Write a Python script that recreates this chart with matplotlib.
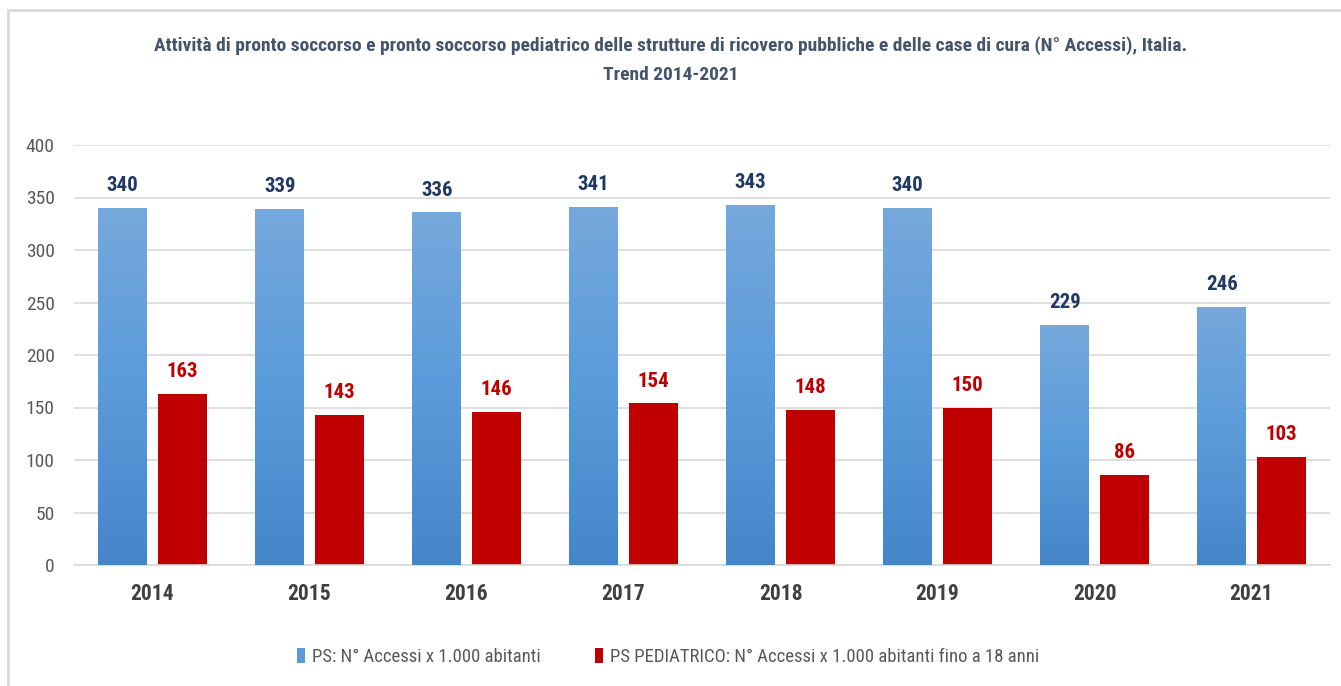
import numpy as np
import matplotlib
matplotlib.use("Agg")
import matplotlib.pyplot as plt
from matplotlib import font_manager
from matplotlib.patches import Rectangle

# dati
anni = ["2014", "2015", "2016", "2017", "2018", "2019", "2020", "2021"]
ps = [340, 339, 336, 341, 343, 340, 229, 246]
ps_ped = [163, 143, 146, 154, 148, 150, 86, 103]
lab_ps = "PS: N° Accessi x 1.000 abitanti"
lab_ped = "PS PEDIATRICO: N° Accessi x 1.000 abitanti fino a 18 anni"
titolo = ("Attività di pronto soccorso e pronto soccorso pediatrico delle strutture di ricovero "
          "pubbliche e delle case di cura (N° Accessi), Italia.\nTrend 2014-2021")

# font stretto se c'e'
fam = "DejaVu Sans"
for f in ["Liberation Sans Narrow", "Roboto Condensed", "Open Sans Condensed", "Liberation Sans"]:
    try:
        font_manager.findfont(f, fallback_to_default=False)
        fam = f
        break
    except Exception:
        pass
plt.rcParams["font.family"] = [fam, "DejaVu Sans"]

fig = plt.figure(figsize=(13.41, 6.86), dpi=100)
ax = fig.add_axes([74 / 1341, (686 - 565) / 686, (1330 - 74) / 1341, 420 / 686])

x = np.arange(len(anni))
w = 0.31
off = 0.19

bars_ps = ax.bar(x - off, ps, w, color="#5B9BD5", zorder=2)
bars_ped = ax.bar(x + off, ps_ped, w, color="#C00000", zorder=2)

# gradiente sulle barre blu
grad = np.linspace(0, 1, 256).reshape(-1, 1)
cmap = matplotlib.colors.LinearSegmentedColormap.from_list("b", ["#4486C8", "#5A9BDB", "#76A8DC"])
for b in bars_ps:
    x0, y0 = b.get_x(), b.get_y()
    im = ax.imshow(grad, extent=[x0, x0 + b.get_width(), y0, y0 + b.get_height()],
                   origin="lower", cmap=cmap, aspect="auto", zorder=3)
    im.set_clip_path(b)

for i in range(len(anni)):
    ax.text(x[i] - off, ps[i] + 12, str(ps[i]), ha="center", va="bottom",
            fontsize=15, fontweight="bold", color="#1F3864")
    ax.text(x[i] + off, ps_ped[i] + 12, str(ps_ped[i]), ha="center", va="bottom",
            fontsize=15, fontweight="bold", color="#C00000")

ax.set_xlim(-0.5, len(anni) - 0.5)
ax.set_ylim(0, 400)
ax.set_yticks(np.arange(0, 401, 50))
ax.set_xticks(x)
ax.set_xticklabels(anni, fontsize=15.5, fontweight="bold", color="#404040")
ax.tick_params(axis="y", labelsize=14, colors="#595959", length=0, pad=14)
ax.tick_params(axis="x", length=0, pad=13)
ax.yaxis.grid(True, color="#D9D9D9", linewidth=1.2, zorder=0)
ax.set_axisbelow(True)
for s in ["top", "right", "left"]:
    ax.spines[s].set_visible(False)
ax.spines["bottom"].set_color("#D9D9D9")
ax.spines["bottom"].set_linewidth(1.2)

fig.text(0.5, 1 - 60 / 686, titolo, ha="center", va="center", fontsize=14,
         fontweight="bold", color="#44546A", linespacing=1.75)

ax.legend([bars_ps, bars_ped], [lab_ps, lab_ped], loc="center", ncol=2,
          bbox_to_anchor=(668 / 1341, 1 - 657 / 686), bbox_transform=fig.transFigure,
          frameon=False, fontsize=13.5, handlelength=0.45, handleheight=0.85,
          columnspacing=2.9, handletextpad=0.35, labelcolor="#595959")

# cornice
fig.patches.append(Rectangle((8 / 1341, -0.1), 1.1, 1 - 10 / 686 + 0.1,
                             transform=fig.transFigure, fill=False,
                             edgecolor="#D9D9D9", linewidth=2))

fig.savefig("out.png", dpi=100)
